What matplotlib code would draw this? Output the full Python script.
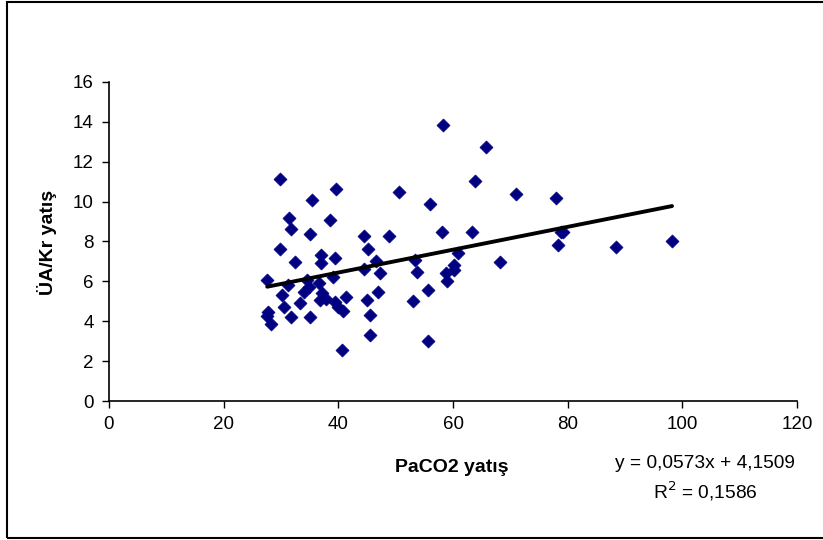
import matplotlib
matplotlib.use("Agg")
import matplotlib.pyplot as plt
import numpy as np
from matplotlib.patches import Rectangle

plt.rcParams['font.family'] = ['Liberation Sans', 'DejaVu Sans']

paco2 = [29.8, 39.6, 35.4, 31.4, 31.8, 38.6, 35.1, 44.5, 48.8, 29.8,
         45.2, 37.0, 39.4, 32.5, 37.0, 46.5, 44.5, 47.2, 39.1, 27.6,
         31.2, 34.6, 36.7, 34.8, 34.0, 30.2, 37.2, 41.3, 36.8, 37.9,
         33.3, 39.4, 45.0, 46.9, 30.5, 40.0, 40.8, 27.7, 27.6, 31.8,
         35.1, 45.5, 28.2, 45.5, 40.6, 50.5, 58.3, 65.8, 63.8, 56.0,
         71.0, 58.0, 63.3, 53.4, 53.8, 60.9, 60.2, 58.7, 60.1, 59.0,
         55.7, 53.0, 68.2, 55.7, 78.0, 78.8, 79.2, 78.4, 88.4, 98.2]
ua_kr = [11.12, 10.65, 10.08, 9.18, 8.64, 9.06, 8.37, 8.29, 8.29, 7.64,
         7.64, 7.31, 7.16, 6.96, 6.92, 7.01, 6.60, 6.40, 6.20, 6.05,
         5.83, 6.07, 5.93, 5.70, 5.47, 5.32, 5.40, 5.20, 5.07, 5.13,
         4.91, 4.98, 5.08, 5.47, 4.70, 4.71, 4.51, 4.46, 4.26, 4.23,
         4.23, 4.33, 3.85, 3.29, 2.54, 10.47, 13.86, 12.72, 11.03, 9.89,
         10.37, 8.49, 8.49, 7.07, 6.48, 7.44, 6.82, 6.43, 6.57, 6.02,
         5.57, 5.00, 6.97, 3.02, 10.18, 8.46, 8.48, 7.81, 7.72, 8.01]

slope = 0.0573
intercept = 4.1509
r2 = 0.1586

x_ticks = [0, 20, 40, 60, 80, 100, 120]
y_ticks = [0, 2, 4, 6, 8, 10, 12, 14, 16]

W, H = 823, 540
fig = plt.figure(figsize=(W / 100, H / 100), dpi=100)
ax = fig.add_axes([109 / W, 1 - 401 / H, (797 - 109) / W, (401 - 82) / H])

ax.scatter(paco2, ua_kr, marker='D', s=44, color='#000080', edgecolors='#000080',
           linewidths=0.5, zorder=3)

xl = np.array([min(paco2), max(paco2)])
ax.plot(xl, slope * xl + intercept, color='black', lw=2.8, zorder=4,
        solid_capstyle='round')

ax.set_xlim(0, 120)
ax.set_ylim(0, 16)
ax.set_xticks(x_ticks)
ax.set_yticks(y_ticks)
ax.tick_params(direction='out', length=5, width=1, labelsize=13.5, pad=6)
for s in ['top', 'right']:
    ax.spines[s].set_visible(False)
for s in ['left', 'bottom']:
    ax.spines[s].set_linewidth(1.2)

fig.text(452 / W, 1 - 468 / H, 'PaCO2 yatış', ha='center', va='center',
         fontsize=14, fontweight='bold')
fig.text(47 / W, 1 - 242 / H, 'ÜA/Kr yatış', ha='center', va='center',
         fontsize=14, fontweight='bold', rotation=90)

eq = 'y = ' + f'{slope:.4f}'.replace('.', ',') + 'x + ' + f'{intercept:.4f}'.replace('.', ',')
fig.text(705 / W, 1 - 464 / H, eq, ha='center', va='center', fontsize=13.8)
fig.text(705 / W, 1 - 491 / H, 'R$^2$ = ' + f'{r2:.4f}'.replace('.', ','),
         ha='center', va='center', fontsize=13.8)

fig.patches.append(Rectangle((7 / W, 1 - 538 / H), 1.0, (538 - 1.5) / H,
                             transform=fig.transFigure, fill=False,
                             edgecolor='black', lw=1.5))

fig.savefig('out.png', dpi=100)
